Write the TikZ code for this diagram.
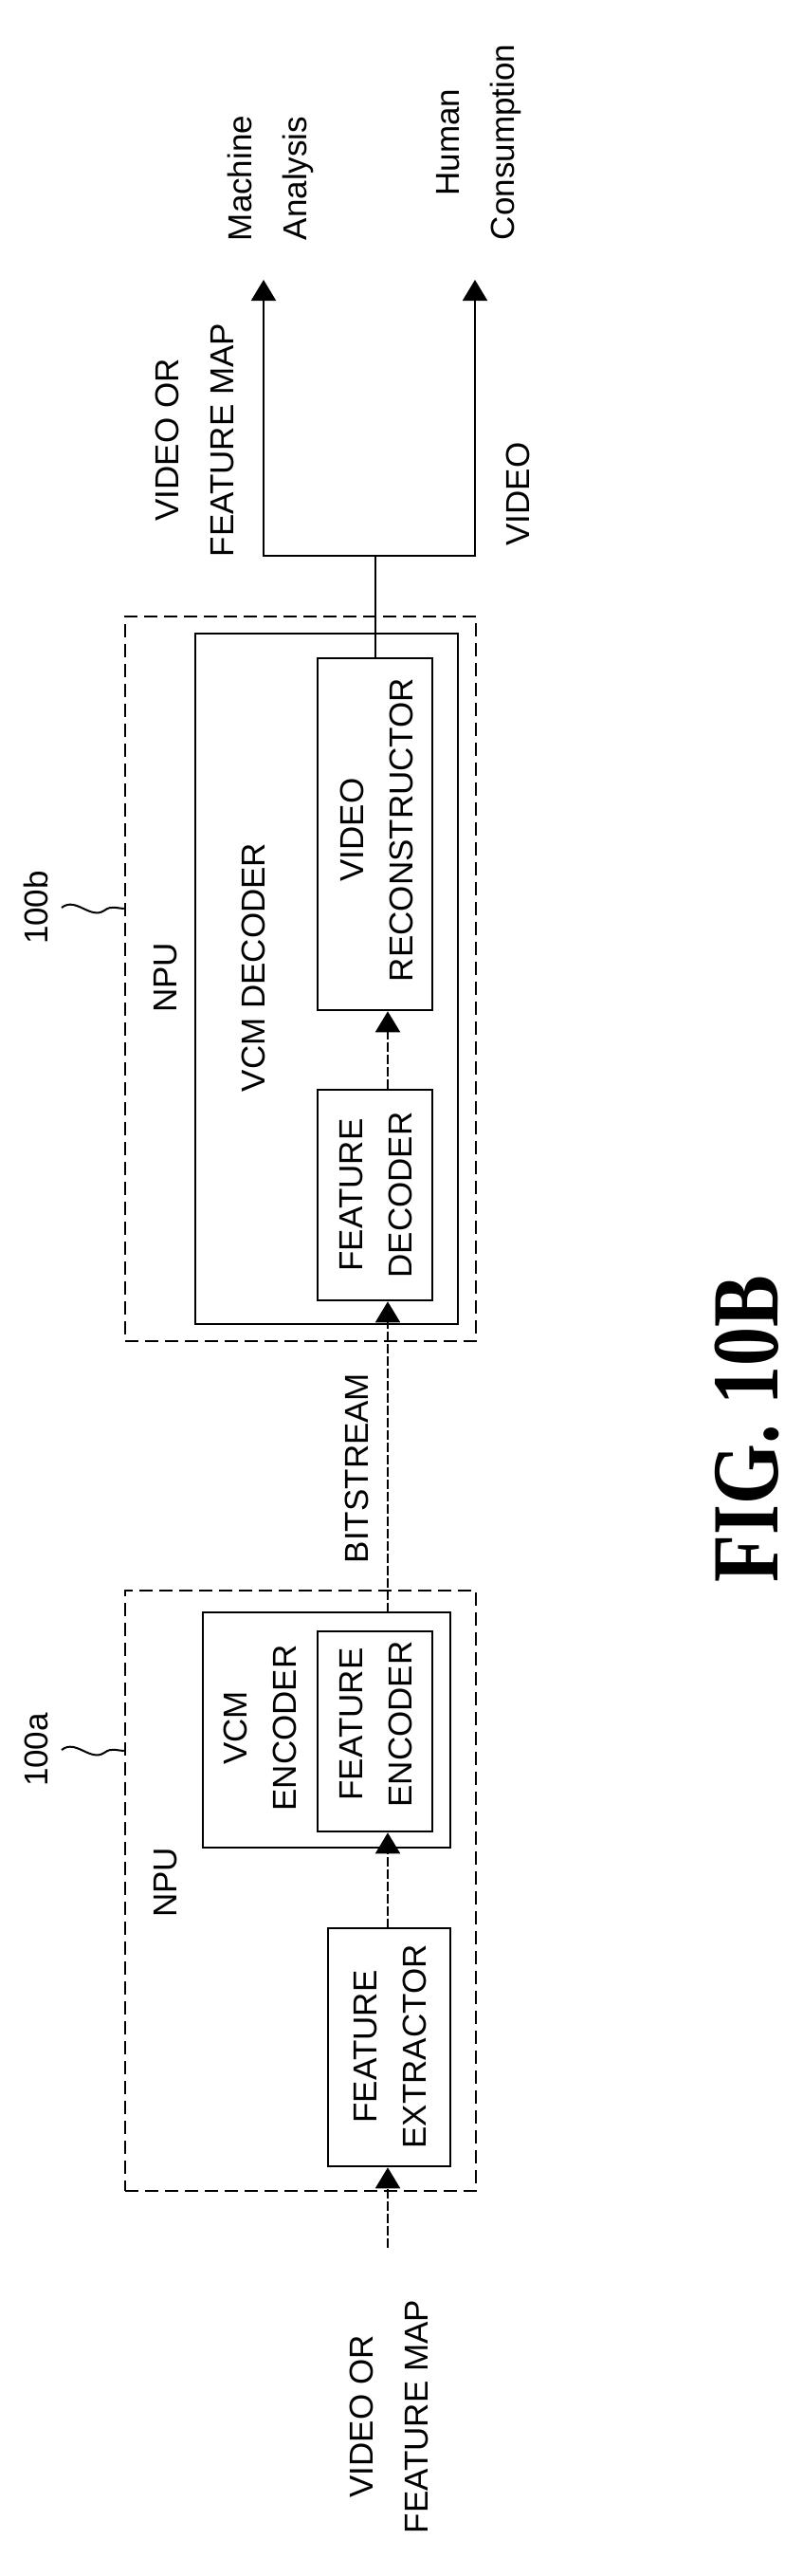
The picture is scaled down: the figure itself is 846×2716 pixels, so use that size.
\documentclass[tikz,border=0pt]{standalone}
\usepackage{fontspec}
\setmainfont{Liberation Sans}
\newfontfamily\figfont{Liberation Serif}
\usetikzlibrary{arrows.meta}
\begin{document}
\begin{tikzpicture}[x=1pt,y=-1pt,
  box/.style={draw,line width=2.5pt,inner sep=0pt},
  npu/.style={draw,line width=2.5pt,dash pattern=on 14pt off 7pt,inner sep=0pt},
  txt/.style={rotate=90,align=center,font=\fontsize{35}{52}\selectfont,inner sep=0pt},
  lbl/.style={rotate=90,align=center,font=\fontsize{35}{58}\selectfont,inner sep=0pt},
  conn/.style={line width=2pt,-{Triangle[width=26pt,length=22pt]}},
  dconn/.style={conn,dash pattern=on 10pt off 3pt}]
\useasboundingbox (0,0) rectangle (846,2716);
% boxes
\node[npu,minimum width=370pt,minimum height=764pt] (npub) at (317,1032) {};
\node[box,minimum width=277pt,minimum height=728pt] (vcmdec) at (344.5,1032) {};
\node[box,minimum width=121pt,minimum height=371pt] (vrec) at (395.5,879.5) {};
\node[box,minimum width=121pt,minimum height=222pt] (fdec) at (395.5,1260) {};
\node[npu,minimum width=370pt,minimum height=633pt] (npua) at (317,1993.5) {};
\node[box,minimum width=261pt,minimum height=248pt] (vcmenc) at (344.5,1824) {};
\node[box,minimum width=121pt,minimum height=211pt] (fenc) at (395.5,1825.5) {};
\node[box,minimum width=129pt,minimum height=251pt] (fext) at (410.5,2158.5) {};
% texts
\node[txt] (tnpub) at (175,1031) {NPU};
\node[txt] (tnpua) at (175,1985) {NPU};
\node[txt] (tvcmdec) at (267,1020) {VCM DECODER};
\node[txt] (tvrec) at (397,875) {VIDEO\\RECONSTRUCTOR};
\node[txt] (tfdec) at (397,1260) {FEATURE\\DECODER};
\node[txt] (tvcmenc) at (274,1822) {VCM\\ENCODER};
\node[txt] (tfenc) at (397,1818) {FEATURE\\ENCODER};
\node[txt] (tfext) at (412,2158) {FEATURE\\EXTRACTOR};
\node[lbl] (tin) at (410,2548) {VIDEO OR\\FEATURE MAP};
\node[txt] (tbit) at (376,1548) {BITSTREAM};
\node[txt] (l100b) at (38,957) {100b};
\node[txt] (l100a) at (38,1845) {100a};
\node[lbl] (tma) at (285,188) {Machine\\Analysis};
\node[lbl] (thc) at (505,150) {Human\\Consumption};
\node[lbl] (tvf) at (205,464) {VIDEO OR\\FEATURE MAP};
\node[txt] (tvid) at (546,521) {VIDEO};
\node[rotate=90,inner sep=0pt] (fig) at (788,1507) {\scalebox{0.82}[1]{\figfont\bfseries\fontsize{100}{100}\selectfont FIG. 10B}};
% squiggles
\draw[line width=2pt] (65,957) .. controls (80,945) and (95,970) .. (110,960) .. controls (118,954) and (124,958) .. (npub.west |- 0,958);
\draw[line width=2pt] (65,1845) .. controls (80,1833) and (95,1858) .. (110,1848) .. controls (118,1842) and (124,1846) .. (npua.west |- 0,1846);
% connectors
\coordinate (inst) at (409,2370);
\coordinate (br) at (396,586);
\coordinate (ma) at (278,295);
\coordinate (hc) at (501,295);
\draw[dconn] (inst) -- (fext.south -| inst);
\draw[dconn] (409,2033) -- (fenc.south -| inst);
\draw[dconn] (409,1700) -- (fdec.south -| inst);
\draw[dconn] (fdec.north -| inst) -- (vrec.south -| inst);
\draw[line width=2pt] (vrec.north -| br) -- (br);
\draw[conn] (br) -- (ma |- br) -- (ma);
\draw[conn] (br) -- (hc |- br) -- (hc);
\end{tikzpicture}
\end{document}
